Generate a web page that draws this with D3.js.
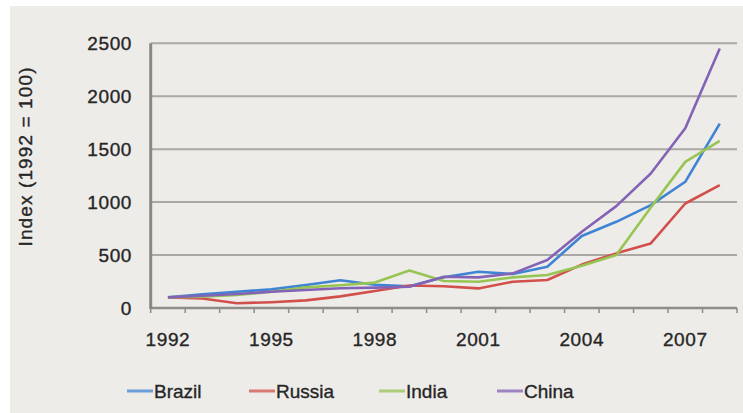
<!DOCTYPE html>
<html>
<head>
<meta charset="utf-8">
<script src="https://cdn.jsdelivr.net/npm/d3@7"></script>
<style>
  body { margin: 0; background: #fff; }
  text { font-family: "Liberation Sans", Arial, sans-serif; fill: #262626; stroke: #262626; stroke-width: 0.35px; }
</style>
</head>
<body>
<div class="chart" style="width:743px;height:413px;"></div>
<script>
// data
const years = d3.range(1992, 2009);
const yearLabels = [1992, 1995, 1998, 2001, 2004, 2007];
const yTicks = [0, 500, 1000, 1500, 2000, 2500];
const seriesNames = ['Brazil', 'Russia', 'India', 'China'];
const seriesColors = ['#3f84d4', '#d2504c', '#97c554', '#8463b6'];
const brazil = [100, 129, 154, 176, 217, 262, 220, 205, 290, 343, 321, 390, 680, 814, 972, 1192, 1742];
const russia = [100, 90, 45, 55, 72, 110, 160, 212, 205, 185, 248, 264, 410, 516, 610, 987, 1160];
const india  = [100, 107, 123, 154, 195, 215, 240, 355, 255, 248, 289, 311, 400, 500, 950, 1380, 1579];
const china  = [100, 116, 132, 154, 170, 186, 192, 201, 295, 289, 327, 453, 720, 962, 1270, 1698, 2450];
const allSeries = [brazil, russia, india, china];

const width = 743, height = 413;
const svg = d3.select('.chart').append('svg')
	.attr('width', width)
	.attr('height', height);

// grey panel with white edge at top/left
svg.append('rect')
	.attr('x', 10).attr('y', 6)
	.attr('width', width - 10).attr('height', height - 6)
	.attr('fill', '#eeece9');

const plotL = 150.7, plotR = 737, plotT = 43.3, plotB = 308;

const x = d3.scaleBand().domain(years).range([plotL, plotR]);
const y = d3.scaleLinear().domain([0, 2500]).range([plotB, plotT]);

// gridlines
svg.selectAll('.grid')
	.data(yTicks.filter(d => d > 0))
	.enter().append('line')
	.attr('x1', plotL).attr('x2', plotR)
	.attr('y1', d => y(d)).attr('y2', d => y(d))
	.style('stroke', '#aaa8a5')
	.style('stroke-width', '2px');

// bottom axis with ticks at band edges
const edges = years.map(d => x(d)).concat([plotR]);
svg.append('line')
	.attr('x1', plotL).attr('x2', plotR)
	.attr('y1', plotB).attr('y2', plotB)
	.style('stroke', '#8f8d8a').style('stroke-width', '2.5px');
svg.selectAll('.xtick')
	.data(edges)
	.enter().append('line')
	.attr('x1', d => d).attr('x2', d => d)
	.attr('y1', plotB).attr('y2', plotB + 5)
	.style('stroke', '#8f8d8a').style('stroke-width', '1.5px');

// left axis
svg.append('line')
	.attr('x1', plotL).attr('x2', plotL)
	.attr('y1', plotT).attr('y2', plotB + 1)
	.style('stroke', '#8a8885').style('stroke-width', '3px');

// tick labels
svg.selectAll('.ylab')
	.data(yTicks)
	.enter().append('text')
	.attr('x', 132)
	.attr('y', d => y(d) + 7)
	.attr('text-anchor', 'end')
	.attr('font-size', '19px')
	.attr('letter-spacing', '0.6px')
	.text(d => d);

svg.selectAll('.xlab')
	.data(yearLabels)
	.enter().append('text')
	.attr('x', d => x(d) + x.bandwidth() / 2)
	.attr('y', 346)
	.attr('text-anchor', 'middle')
	.attr('font-size', '19px')
	.attr('letter-spacing', '0.6px')
	.text(d => d);

// y axis title
svg.append('text')
	.attr('transform', 'translate(32,157) rotate(-90)')
	.attr('text-anchor', 'middle')
	.attr('font-size', '19px')
	.attr('textLength', 179)
	.attr('lengthAdjust', 'spacing')
	.text('Index (1992 = 100)');

// series lines
const line = d3.line()
	.x((d, i) => x(years[i]) + x.bandwidth() / 2)
	.y(d => y(d));

allSeries.forEach((s, k) => {
	svg.append('path')
		.datum(s)
		.attr('d', line)
		.style('fill', 'none')
		.style('stroke', seriesColors[k])
		.style('stroke-width', '2.6px')
		.style('stroke-linejoin', 'round');
});

// legend
const legendX = [127, 249, 379, 497];
seriesNames.forEach((n, k) => {
	svg.append('line')
		.attr('x1', legendX[k]).attr('x2', legendX[k] + 26)
		.attr('y1', 391).attr('y2', 391)
		.style('stroke', seriesColors[k])
		.style('stroke-width', '3px')
		.style('opacity', 0.75);
	svg.append('text')
		.attr('x', legendX[k] + 27)
		.attr('y', 398)
		.attr('font-size', '19px')
		.text(n);
});
</script>
</body>
</html>
